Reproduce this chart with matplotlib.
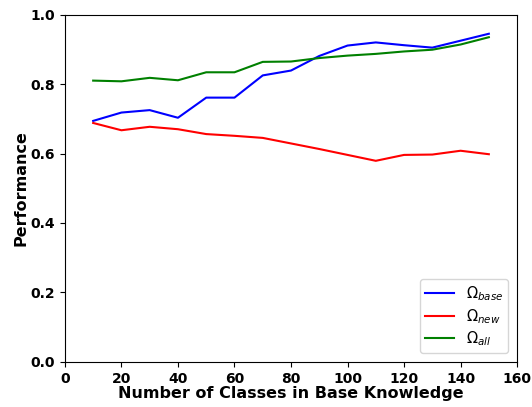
import matplotlib
matplotlib.use("Agg")
import matplotlib.pyplot as plt

N_CLASSES = [10, 20, 30, 40, 50, 60, 70, 80, 90, 100, 110, 120, 130, 140, 150]
OMEGA_BASE = [0.694, 0.718, 0.725, 0.703, 0.761, 0.761, 0.825, 0.839, 0.881,
              0.911, 0.920, 0.912, 0.905, 0.925, 0.945]
OMEGA_NEW = [0.688, 0.667, 0.677, 0.670, 0.656, 0.651, 0.645, 0.629, 0.613,
             0.596, 0.579, 0.596, 0.597, 0.608, 0.598]
OMEGA_ALL = [0.810, 0.808, 0.818, 0.811, 0.834, 0.834, 0.864, 0.865, 0.875,
             0.882, 0.887, 0.894, 0.899, 0.914, 0.935]

plt.rcParams.update({
    "font.family": "DejaVu Sans",
    "font.size": 10,
})

fig = plt.figure(figsize=(5.32, 4.07), dpi=100)
ax = fig.add_axes([0.122, 0.111, 0.850, 0.853])

ax.plot(N_CLASSES, OMEGA_BASE, color="blue", linewidth=1.5, label=r"$\Omega_{base}$")
ax.plot(N_CLASSES, OMEGA_NEW, color="red", linewidth=1.5, label=r"$\Omega_{new}$")
ax.plot(N_CLASSES, OMEGA_ALL, color="green", linewidth=1.5, label=r"$\Omega_{all}$")

ax.set_xlim(0, 160)
ax.set_ylim(0.0, 1.0)
ax.set_xticks(range(0, 161, 20))
ax.set_yticks([0.0, 0.2, 0.4, 0.6, 0.8, 1.0])
ax.set_xlabel("Number of Classes in Base Knowledge", fontsize=11.5,
              fontweight="bold", labelpad=0.5)
ax.set_ylabel("Performance", fontsize=11.5, fontweight="bold", labelpad=1.5)
for lbl in ax.get_xticklabels() + ax.get_yticklabels():
    lbl.set_fontweight("bold")

ax.legend(loc="lower right", fontsize=10.5, borderaxespad=0.6,
          labelspacing=0.25, borderpad=0.35)

fig.savefig("out.png", dpi=100)
